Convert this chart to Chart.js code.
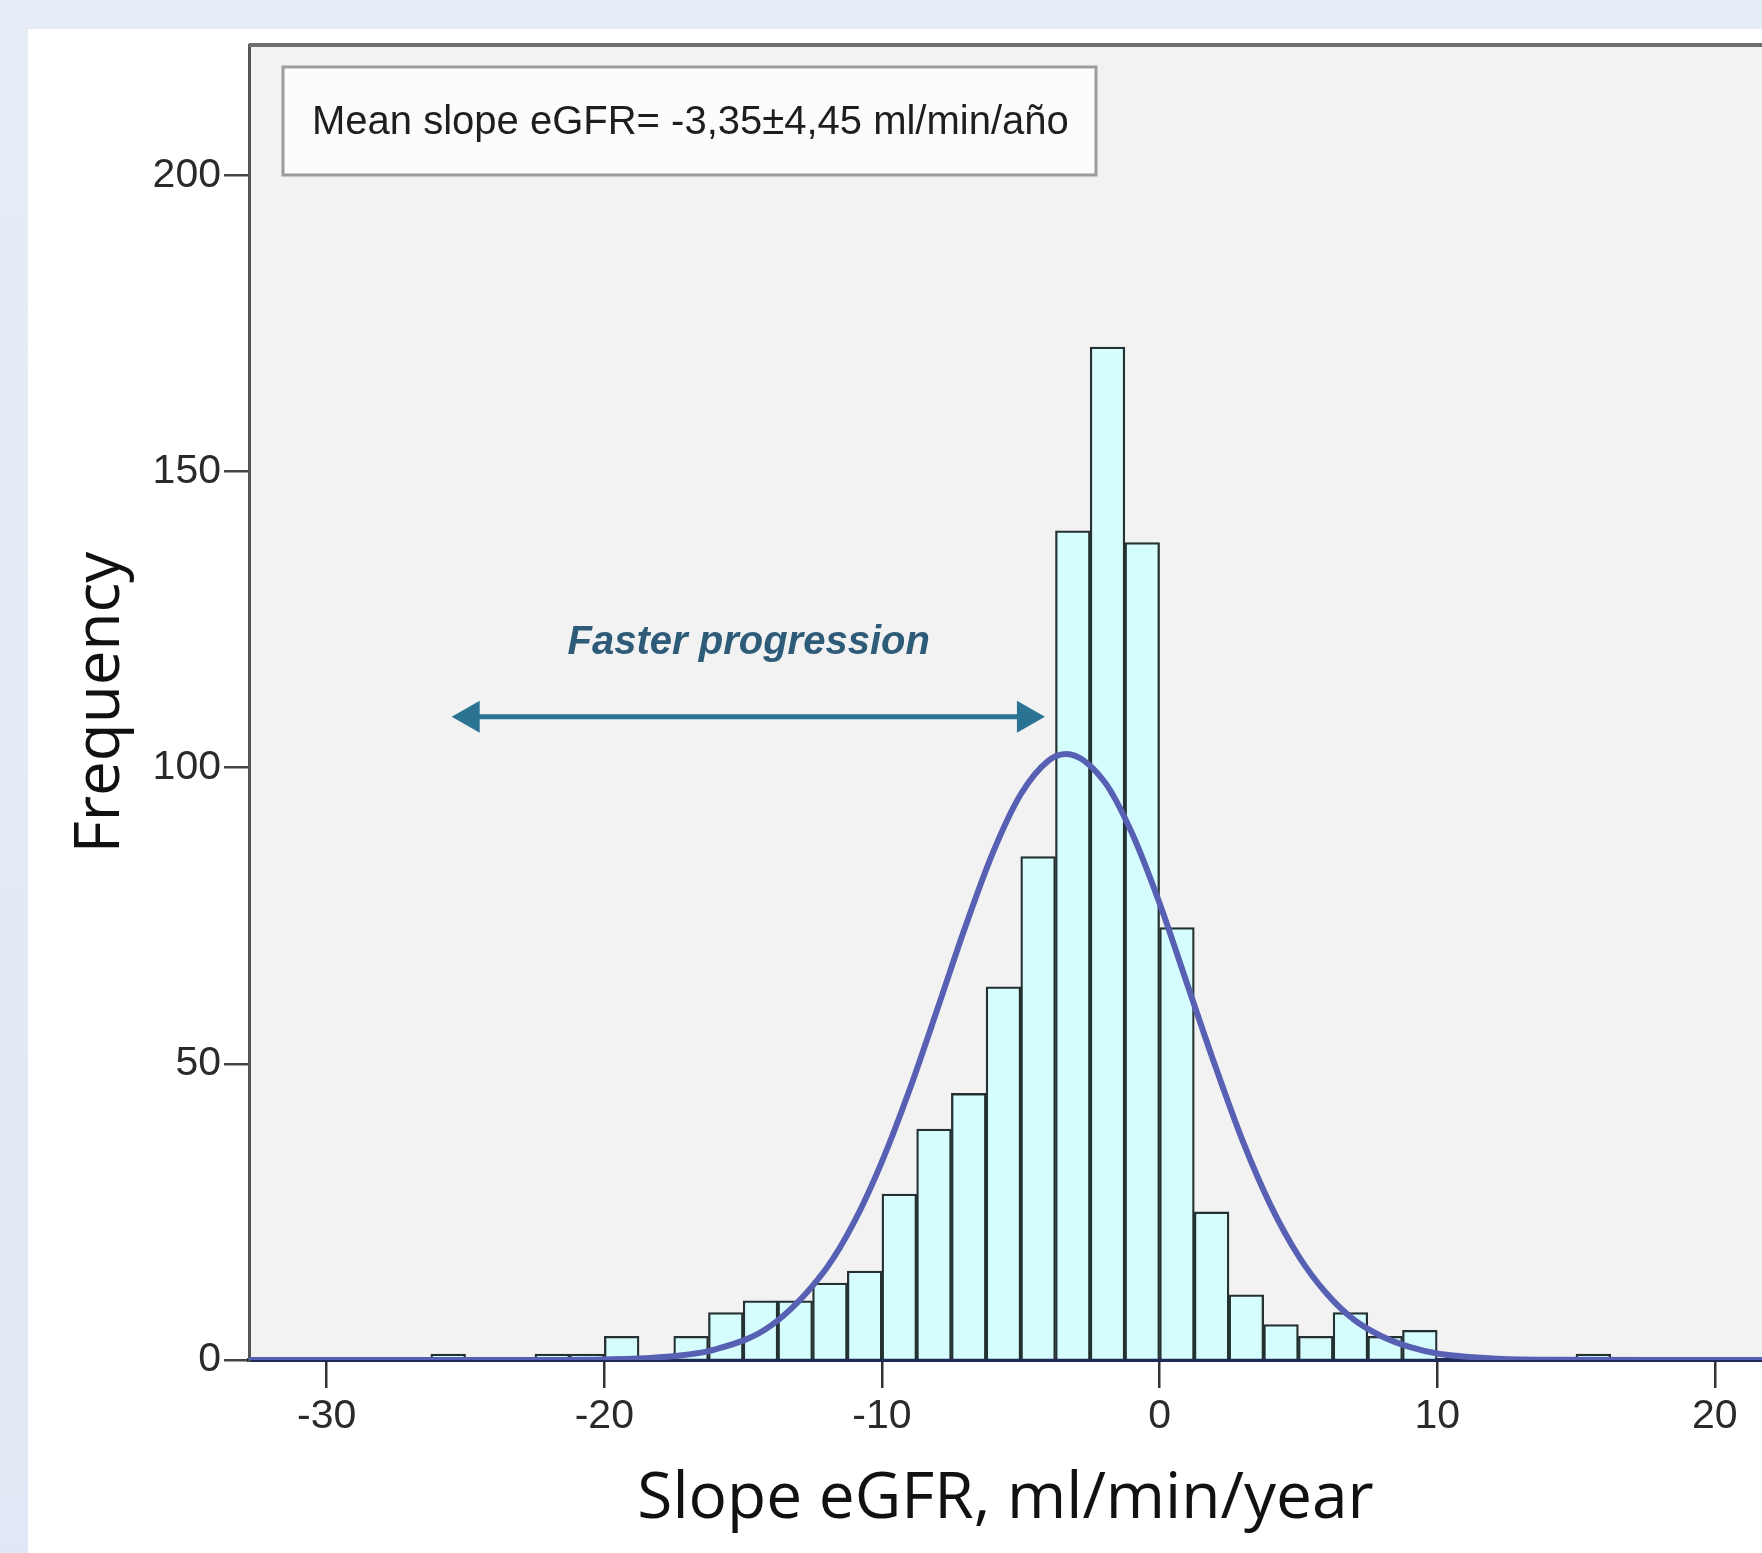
<!DOCTYPE html>
<html>
<head>
<meta charset="utf-8">
<script src="https://cdn.jsdelivr.net/npm/chart.js@4.4.1/dist/chart.umd.min.js"></script>
<style>
  html, body { margin: 0; padding: 0; }
  body { width: 1762px; height: 1553px; position: relative; overflow: hidden;
         background: linear-gradient(180deg, #e6edf7 0%, #dfe8f4 100%); }
  #panel { position: absolute; left: 28px; top: 29px; right: 0; bottom: 0; background: #fff; }
  #wrap { position: absolute; left: 0; top: 0; width: 1762px; height: 1553px; }
</style>
</head>
<body>
<div id="panel"></div>
<div id="wrap"><canvas id="histChart"></canvas></div>
<script>
// histogram bins (lower edge of each 1.25 wide bin) and their counts
const binStarts = [-26.25, -25, -23.75, -22.5, -21.25, -20, -18.75, -17.5, -16.25, -15, -13.75, -12.5, -11.25,
  -10, -8.75, -7.5, -6.25, -5, -3.75, -2.5, -1.25, 0, 1.25, 2.5, 3.75, 5, 6.25, 7.5, 8.75, 10, 11.25, 12.5, 13.75, 15];
const binCounts = [1, null, null, 1, 1, 4, null, 4, 8, 10, 10, 13, 15,
  28, 39, 45, 63, 85, 140, 171, 138, 73, 25, 11, 6, 4, 8, 4, 5, null, null, null, null, 1];
const binWidth = 1.25;

// normal curve
const curveX = [-33, -24, -20, -18, -16, -14, -12, -11, -10, -9, -8, -7, -6, -5, -4, -3.35, -2, -1, 0,
  1, 2, 3, 4, 5, 6, 7, 8, 9, 10, 12, 14, 18, 22];
const curveY = [0, 0, 0.1, 0.45, 1.8, 5.8, 15.5, 23.3, 33.5, 45.7, 59.3, 73.1, 85.7, 95.5, 101.2, 102.3, 97.7, 89.0, 77.1,
  63.4, 49.7, 36.9, 26.1, 17.6, 11.3, 6.8, 4.0, 2.2, 1.1, 0.27, 0.05, 0, 0];

const xTickValues = [-30, -20, -10, 0, 10, 20];
const yTickValues = [0, 50, 100, 150, 200];

const statsText = 'Mean slope eGFR= -3,35\u00b14,45 ml/min/a\u00f1o';
const arrowLabel = 'Faster progression';
// arrow in data units
const arrowFrom = -25.5, arrowTo = -4.13, arrowAt = 108.6;
const labelX = -14.8, labelY = 121;

const plotDecor = {
  id: 'plotDecor',
  beforeDraw(chart) {
    const { ctx, chartArea: a } = chart;
    ctx.save();
    ctx.fillStyle = '#f2f2f2';
    ctx.fillRect(a.left, a.top, a.right - a.left, a.bottom - a.top);
    ctx.restore();
  },
  afterDatasetsDraw(chart) {
    const { ctx, chartArea: a, scales: { x, y } } = chart;
    ctx.save();

    // top frame line
    ctx.strokeStyle = '#6f6f6f';
    ctx.lineWidth = 4;
    ctx.beginPath();
    ctx.moveTo(a.left, a.top);
    ctx.lineTo(a.right, a.top);
    ctx.stroke();

    // stats box
    const bx = a.left + 34, by = a.top + 22, bw = 813, bh = 108;
    ctx.fillStyle = '#fcfcfc';
    ctx.fillRect(bx, by, bw, bh);
    ctx.strokeStyle = '#9c9c9c';
    ctx.lineWidth = 3;
    ctx.strokeRect(bx, by, bw, bh);
    ctx.fillStyle = '#1e1e1e';
    ctx.font = '40px "Liberation Sans", Arial, sans-serif';
    ctx.textBaseline = 'middle';
    ctx.textAlign = 'left';
    ctx.fillText(statsText, bx + 29, by + bh / 2 + 2);

    // double arrow
    const x1 = x.getPixelForValue(arrowFrom);
    const x2 = x.getPixelForValue(arrowTo);
    const ya = y.getPixelForValue(arrowAt);
    const head = 28, half = 16;
    ctx.strokeStyle = '#2a7393';
    ctx.fillStyle = '#2a7393';
    ctx.lineWidth = 5;
    ctx.beginPath();
    ctx.moveTo(x1 + head - 4, ya);
    ctx.lineTo(x2 - head + 4, ya);
    ctx.stroke();
    ctx.beginPath();
    ctx.moveTo(x1, ya);
    ctx.lineTo(x1 + head, ya - half);
    ctx.lineTo(x1 + head, ya + half);
    ctx.closePath();
    ctx.fill();
    ctx.beginPath();
    ctx.moveTo(x2, ya);
    ctx.lineTo(x2 - head, ya - half);
    ctx.lineTo(x2 - head, ya + half);
    ctx.closePath();
    ctx.fill();

    // arrow label
    ctx.fillStyle = '#2d5b78';
    ctx.font = 'italic bold 40px "Liberation Sans", Arial, sans-serif';
    ctx.textAlign = 'center';
    ctx.fillText(arrowLabel, x.getPixelForValue(labelX), y.getPixelForValue(labelY));

    ctx.restore();
  }
};

const ctx = document.getElementById('histChart').getContext('2d');
new Chart(ctx, {
  type: 'bar',
  data: {
    datasets: [
      {
        type: 'line',
        label: 'Normal',
        data: curveX.map((v, i) => ({ x: v, y: curveY[i] })),
        borderColor: '#5860b4',
        borderWidth: 6,
        pointRadius: 0,
        cubicInterpolationMode: 'monotone',
        order: 0
      },
      {
        type: 'bar',
        label: 'Frequency',
        data: binStarts.map((v, i) => ({ x: v + binWidth / 2, y: binCounts[i] })),
        backgroundColor: '#d6fdfd',
        borderColor: '#253030',
        borderWidth: 2.3,
        barPercentage: 1,
        categoryPercentage: 1,
        order: 1
      }
    ]
  },
  options: {
    responsive: true,
    maintainAspectRatio: false,
    animation: false,
    layout: { padding: { top: 45, right: 0, left: 0, bottom: 0 } },
    plugins: {
      legend: { display: false },
      tooltip: { enabled: false }
    },
    scales: {
      x: {
        type: 'linear',
        min: -32.8,
        max: 21.7,
        offset: false,
        afterFit: (scale) => { scale.height = 193; },
        afterBuildTicks: (scale) => { scale.ticks = xTickValues.map(v => ({ value: v })); },
        grid: { offset: false, drawOnChartArea: false, color: '#333', lineWidth: 2.5, tickLength: 28 },
        border: { display: true, color: '#1f2a55', width: 4 },
        ticks: { color: '#2a2a2a', padding: 4, font: { family: '"Liberation Sans", Arial', size: 41 } },
        title: {
          display: true,
          text: 'Slope eGFR, ml/min/year',
          color: '#111',
          font: { family: '"Open Sans", sans-serif', size: 64 },
          padding: { top: 0, bottom: 15 }
        }
      },
      y: {
        min: 0,
        max: 222,
        afterFit: (scale) => { scale.width = 249; },
        afterBuildTicks: (scale) => { scale.ticks = yTickValues.map(v => ({ value: v })); },
        grid: { drawOnChartArea: false, color: '#444', lineWidth: 2.5, tickLength: 25 },
        border: { display: true, color: '#555', width: 3 },
        ticks: { color: '#2a2a2a', padding: 3, font: { family: '"Liberation Sans", Arial', size: 41 } },
        title: {
          display: true,
          text: 'Frequency',
          color: '#111',
          font: { family: '"Open Sans", sans-serif', size: 62 },
          padding: { top: 64, bottom: 0 }
        }
      }
    }
  },
  plugins: [plotDecor]
});
</script>
</body>
</html>
